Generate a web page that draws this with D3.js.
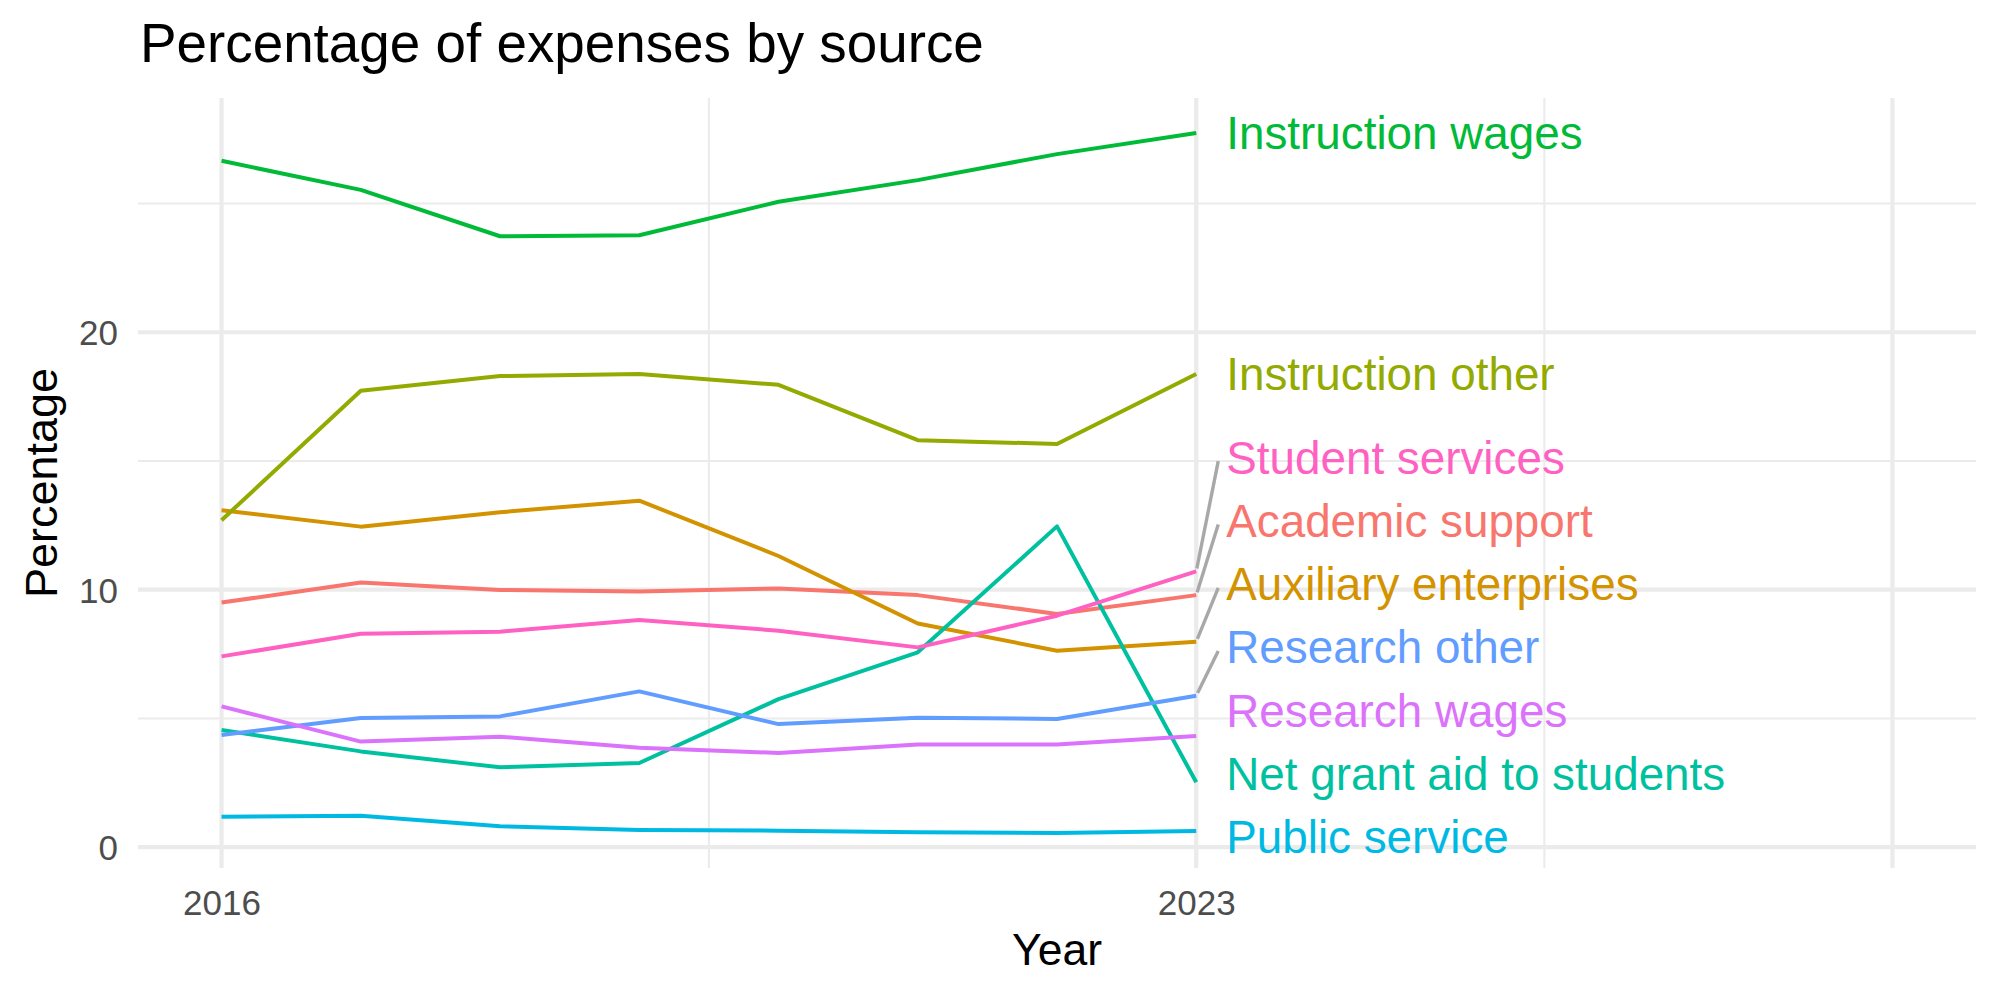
<!DOCTYPE html>
<html>
<head>
<meta charset="utf-8">
<script src="https://cdn.jsdelivr.net/npm/d3@7"></script>
<style>
  html, body { margin: 0; padding: 0; background: #fff; }
  svg { display: block; font-family: "Liberation Sans", Arial, sans-serif; }
</style>
</head>
<body>
<svg id="chart" width="2000" height="1000"></svg>
<script>
// ---- Data ----
const years = [2016, 2017, 2018, 2019, 2020, 2021, 2022, 2023];
const seriesNames = [
  "Academic support", "Auxiliary enterprises", "Instruction other", "Instruction wages",
  "Net grant aid to students", "Public service", "Research other", "Research wages", "Student services"
];
const academicSupport      = [9.50, 10.28, 9.99, 9.93, 10.05, 9.79, 9.06, 9.79];
const auxiliaryEnterprises = [13.09, 12.45, 13.01, 13.46, 11.31, 8.69, 7.63, 7.98];
const instructionOther     = [12.70, 17.73, 18.30, 18.38, 17.96, 15.81, 15.66, 18.38];
const instructionWages     = [26.66, 25.53, 23.73, 23.77, 25.07, 25.91, 26.92, 27.74];
const netGrantAid          = [4.55, 3.72, 3.10, 3.27, 5.75, 7.57, 12.46, 2.52];
const publicService        = [1.18, 1.22, 0.81, 0.67, 0.64, 0.58, 0.55, 0.63];
const researchOther        = [4.36, 5.02, 5.08, 6.05, 4.78, 5.03, 4.98, 5.88];
const researchWages        = [5.47, 4.10, 4.29, 3.86, 3.66, 3.99, 3.99, 4.32];
const studentServices      = [7.41, 8.29, 8.37, 8.82, 8.41, 7.76, 8.99, 10.71];
const seriesValues = [academicSupport, auxiliaryEnterprises, instructionOther, instructionWages,
  netGrantAid, publicService, researchOther, researchWages, studentServices];
const seriesColors = ["#F8766D", "#D39200", "#93AA00", "#00BA38", "#00C19F", "#00B9E3", "#619CFF", "#DB72FB", "#FF61C3"];

const xLimits = [2016, 2028];
const xMajorBreaks = [2016, 2023, 2028];
const xTickLabels = ["2016", "2023", ""];
const xMinorBreaks = [2019.5, 2025.5];
const yMajorBreaks = [0, 10, 20];
const yMinorBreaks = [5, 15, 25];
const titleText = "Percentage of expenses by source";
const xTitle = "Year";
const yTitle = "Percentage";

// ---- Layout ----
const panel = { left: 138, right: 1976, top: 98, bottom: 868 };
const svg = d3.select("#chart");
svg.append("rect").attr("width", 2000).attr("height", 1000).attr("fill", "#fff");

const xr = xLimits[1] - xLimits[0];
const x = d3.scaleLinear()
  .domain([xLimits[0] - 0.05 * xr, xLimits[1] + 0.05 * xr])
  .range([panel.left, panel.right]);
const allVals = seriesValues.flat();
const yMin = d3.min(allVals), yMax = d3.max(allVals), yr = yMax - yMin;
const y = d3.scaleLinear()
  .domain([yMin - 0.05 * yr, yMax + 0.05 * yr])
  .range([panel.bottom, panel.top]);

const grid = svg.append("g");
// minor gridlines
grid.selectAll(".ymin").data(yMinorBreaks).join("line")
  .attr("x1", panel.left).attr("x2", panel.right)
  .attr("y1", d => y(d)).attr("y2", d => y(d))
  .attr("stroke", "#EBEBEB").attr("stroke-width", 2.1);
grid.selectAll(".xmin").data(xMinorBreaks).join("line")
  .attr("y1", panel.top).attr("y2", panel.bottom)
  .attr("x1", d => x(d)).attr("x2", d => x(d))
  .attr("stroke", "#EBEBEB").attr("stroke-width", 2.1);
// major gridlines
grid.selectAll(".ymaj").data(yMajorBreaks).join("line")
  .attr("x1", panel.left).attr("x2", panel.right)
  .attr("y1", d => y(d)).attr("y2", d => y(d))
  .attr("stroke", "#EBEBEB").attr("stroke-width", 4.2);
grid.selectAll(".xmaj").data(xMajorBreaks).join("line")
  .attr("y1", panel.top).attr("y2", panel.bottom)
  .attr("x1", d => x(d)).attr("x2", d => x(d))
  .attr("stroke", "#EBEBEB").attr("stroke-width", 4.2);

// axes (text only, ggplot minimal style)
const yAxis = d3.axisLeft(y).tickValues(yMajorBreaks).tickSize(0).tickPadding(20).tickFormat(d3.format("d"));
const gy = svg.append("g").attr("transform", `translate(${panel.left},0)`).call(yAxis);
gy.select(".domain").remove();
gy.selectAll("text").attr("font-size", 35).attr("fill", "#4D4D4D")
  .attr("font-family", "'Liberation Sans', Arial, sans-serif").attr("dy", "0.36em");

const xAxis = d3.axisBottom(x).tickValues(xMajorBreaks).tickSize(0).tickPadding(22)
  .tickFormat((d, i) => xTickLabels[i]);
const gx = svg.append("g").attr("transform", `translate(0,${panel.bottom})`).call(xAxis);
gx.select(".domain").remove();
gx.selectAll("text").attr("font-size", 35).attr("fill", "#4D4D4D")
  .attr("font-family", "'Liberation Sans', Arial, sans-serif");

// lines
const series = seriesNames.map((name, i) => ({
  name, color: seriesColors[i],
  values: years.map((yr_, j) => ({ year: yr_, value: seriesValues[i][j] }))
}));
const line = d3.line().x(d => x(d.year)).y(d => y(d.value));
svg.append("g").selectAll("path").data(series).join("path")
  .attr("d", d => line(d.values))
  .attr("fill", "none").attr("stroke", d => d.color)
  .attr("stroke-width", 4).attr("stroke-linejoin", "round").attr("stroke-linecap", "butt");

// ---- Repelled end labels ----
const lastYear = years[years.length - 1];
const labelFont = 45.8;
const gap = 63.3;
const half = 31;
const labels = series.map(s => {
  const py = y(s.values[s.values.length - 1].value);
  return { name: s.name, color: s.color, py, ly: py };
}).sort((a, b) => a.py - b.py);

// cluster-based dodge
let clusters = labels.map(l => ({ items: [l], center: l.py }));
function place(c) {
  const n = c.items.length;
  let top = c.center - (n - 1) * gap / 2;
  const lo = panel.top + half, hi = panel.bottom - half;
  if (top < lo) top = lo;
  if (top + (n - 1) * gap > hi) top = hi - (n - 1) * gap;
  c.items.forEach((it, k) => it.ly = top + k * gap);
  c.top = top; c.bottom = top + (n - 1) * gap;
}
clusters.forEach(place);
let merged = true;
while (merged) {
  merged = false;
  for (let i = 0; i < clusters.length - 1; i++) {
    const a = clusters[i], b = clusters[i + 1];
    if (b.top - a.bottom < gap) {
      const items = a.items.concat(b.items);
      const c = { items, center: d3.mean(items, d => d.py) };
      place(c);
      clusters.splice(i, 2, c);
      merged = true;
      break;
    }
  }
}

const lx = x(lastYear) + 30;
const segG = svg.append("g");
labels.forEach(l => {
  if (Math.abs(l.ly - l.py) > 30) {
    const ex = lx - 8, ey = l.ly + 4;
    const dx = ex - x(lastYear), dy = ey - l.py, len = Math.hypot(dx, dy);
    segG.append("line")
      .attr("x1", x(lastYear) + dx / len * 3).attr("y1", l.py + dy / len * 3)
      .attr("x2", ex).attr("y2", ey)
      .attr("stroke", "#A8A8A8").attr("stroke-width", 3.4);
  }
});
svg.append("g").selectAll("text").data(labels).join("text")
  .attr("x", lx).attr("y", d => d.ly + labelFont * 0.358)
  .attr("font-size", labelFont).attr("fill", d => d.color)
  .text(d => d.name);

// titles
svg.append("text").attr("x", 140).attr("y", 62).attr("font-size", 54.8).attr("fill", "#000").text(titleText);
svg.append("text").attr("x", (panel.left + panel.right) / 2).attr("y", 965)
  .attr("text-anchor", "middle").attr("font-size", 44.5).attr("fill", "#000").text(xTitle);
svg.append("text").attr("transform", `translate(57,${(panel.top + panel.bottom) / 2}) rotate(-90)`)
  .attr("text-anchor", "middle").attr("font-size", 45).attr("fill", "#000").text(yTitle);
</script>
</body>
</html>
